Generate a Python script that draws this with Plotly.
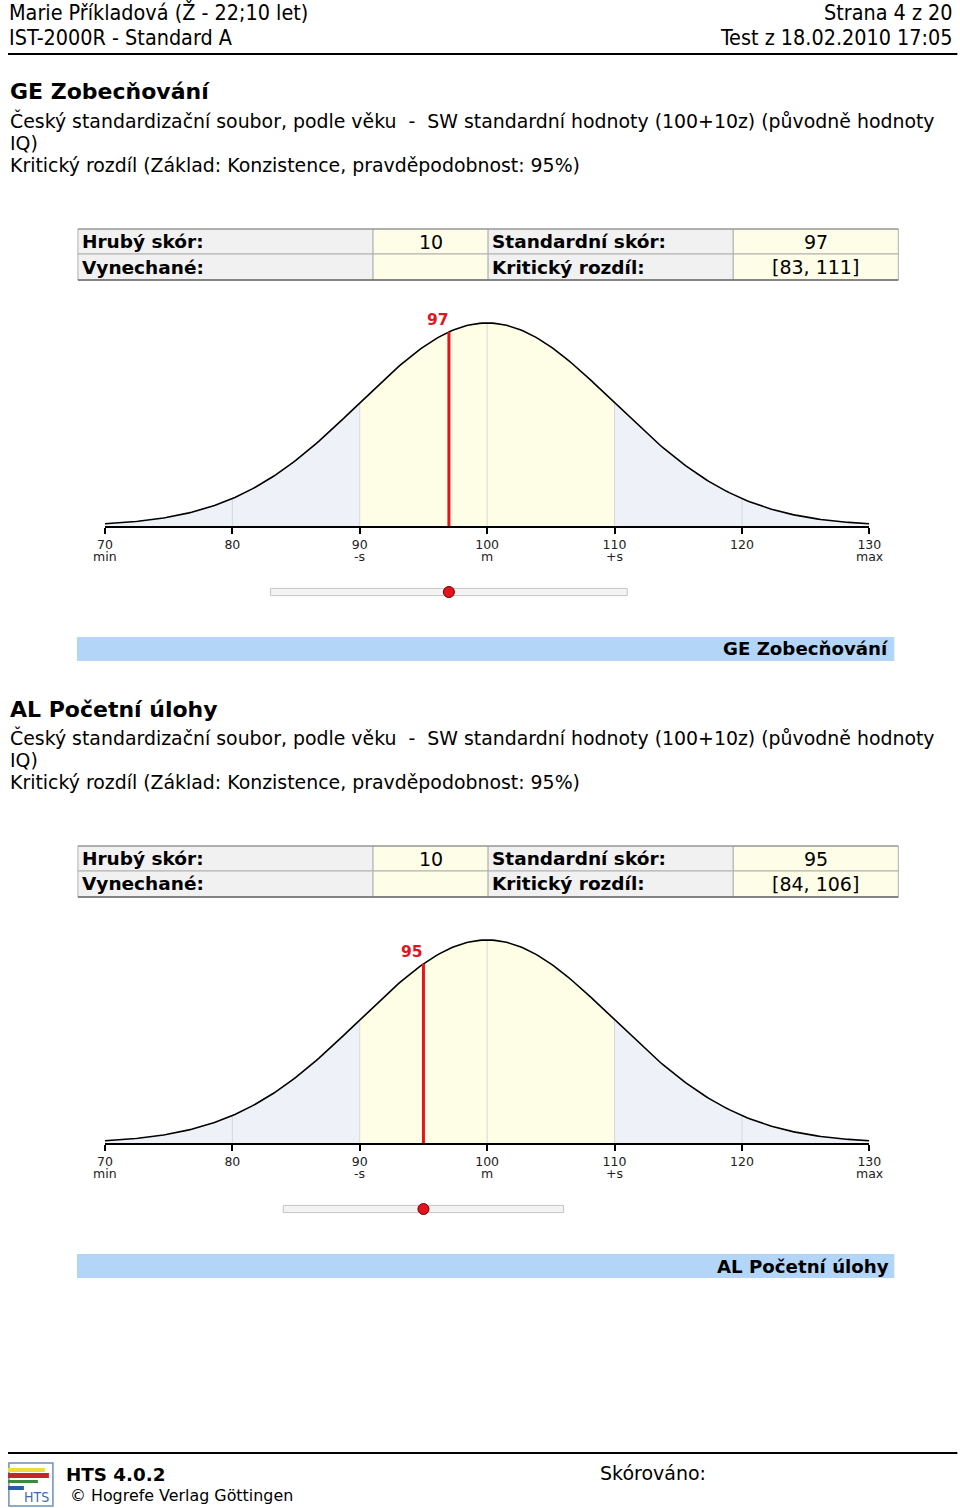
import numpy as np
import plotly.graph_objects as go

# ---------------- data ----------------
header_left = ["Marie Příkladová (Ž - 22;10 let)", "IST-2000R - Standard A"]
header_right = ["Strana 4 z 20", "Test z 18.02.2010 17:05"]
section_titles = ["GE Zobecňování", "AL Početní úlohy"]
norm_text = "Český standardizační soubor, podle věku \u00a0-\u00a0 SW standardní hodnoty (100+10z) (původně hodnoty"
norm_text2 = "IQ)"
crit_text = "Kritický rozdíl (Základ: Konzistence, pravděpodobnost: 95%)"
table_labels = [["Hrubý skór:", "Standardní skór:"], ["Vynechané:", "Kritický rozdíl:"]]
raw_scores = [10, 10]
omitted = ["", ""]
std_scores = [97, 95]
crit_low = [83, 84]
crit_high = [111, 106]
norm_mean = 100
norm_sd = 10
tick_vals = [70, 80, 90, 100, 110, 120, 130]
tick_nums = ["70", "80", "90", "100", "110", "120", "130"]
tick_sub = ["min", "", "-s", "m", "+s", "", "max"]
grid_vals = [80, 90, 100, 110, 120]
band_segments = [(70, 90), (90, 110), (110, 130)]
footer_version = "HTS 4.0.2"
footer_copy = "© Hogrefe Verlag Göttingen"
footer_scored = "Skórováno:"

# ---------------- styling ----------------
W, H = 975, 1508          # figure size in CSS px
OFF_X, K_X = 8.1, 0.979   # observed horizontal placement of the figure in the photographed page
FONT = "DejaVu Sans"
HFONT = "DejaVu Sans Condensed, Liberation Sans Narrow, DejaVu Sans"
TAIL = "#eef2f8"
CENTER = "#fefee6"
RED = "#e3141b"
LABEL_BG = "#f1f1f1"
VALUE_BG = "#fefde8"
BAND = "#b3d6f8"
SECTION_DY = 617
PEAK_PX = 203
COL_X = [78, 373, 488, 733, 898]
ROW_Y = [229, 254, 280]


def px(x):
    return ((x - OFF_X) / K_X) / W


def py(y):
    return 1 - y / H


def dens(x):
    return np.exp(-0.5 * ((np.asarray(x, dtype=float) - norm_mean) / norm_sd) ** 2)


fig = go.Figure()
annotations = []
shapes = []


def text(x, y, s, size, anchor="left", bold=False, color="black", family=FONT):
    annotations.append(dict(
        x=px(x), y=py(y), xref="paper", yref="paper", showarrow=False,
        text=f"<b>{s}</b>" if bold else s, xanchor=anchor, yanchor="middle",
        font=dict(size=size, color=color, family=family)))


def rect(x0, y0, x1, y1, fill=None, line_color=None, lw=1, layer="above"):
    shapes.append(dict(type="rect", xref="paper", yref="paper", x0=max(px(x0), 0), x1=px(x1),
                       y0=py(y1), y1=py(y0), fillcolor=fill or "rgba(0,0,0,0)",
                       line=dict(color=line_color or "rgba(0,0,0,0)", width=lw if line_color else 0),
                       layer=layer))


def hline(x0, x1, y, color="black", width=2):
    shapes.append(dict(type="line", xref="paper", yref="paper", x0=max(px(x0), 0), x1=px(x1),
                       y0=py(y), y1=py(y), line=dict(color=color, width=width)))


# header
text(7, 13, header_left[0], 21.4, family=HFONT)
text(7, 38, header_left[1], 21.4, family=HFONT)
text(955, 13, header_right[0], 21.4, anchor="right", family=HFONT)
text(955, 38, header_right[1], 21.4, anchor="right", family=HFONT)
hline(5, 957, 54)

layout_axes = {}
for i, title in enumerate(section_titles):
    dy = SECTION_DY * i
    n = i + 1
    xa = "x" if n == 1 else f"x{n}"
    ya = "y" if n == 1 else f"y{n}"
    ys_n = n + 2
    ys = f"y{ys_n}"
    base = 526 + dy
    top = 300 + dy
    s = std_scores[i]

    text(8, 92 + dy, title, 22, bold=True)
    text(8, 120 + dy, norm_text, 18.9)
    text(8, 143 + dy, norm_text2, 18.9)
    text(8, 165 + dy, crit_text, 18.9)

    values = [[str(raw_scores[i]), str(s)],
              [omitted[i], f"[{crit_low[i]}, {crit_high[i]}]"]]
    for r in range(2):
        y0, y1 = ROW_Y[r] + dy, ROW_Y[r + 1] + dy
        ym = (y0 + y1) / 2
        for c in range(2):
            lx0, lx1, vx1 = COL_X[2 * c], COL_X[2 * c + 1], COL_X[2 * c + 2]
            rect(lx0, y0, lx1, y1, fill=LABEL_BG, line_color="#b0b0b0", layer="below")
            rect(lx1, y0, vx1, y1, fill=VALUE_BG, line_color="#b0b0b0", layer="below")
            text(lx0 + 2, ym, table_labels[r][c], 18.5, bold=True)
            if values[r][c]:
                text((lx1 + vx1) / 2, ym, values[r][c], 19, anchor="center")
    hline(COL_X[0], COL_X[-1], ROW_Y[0] + dy, color="#8a8a8a", width=1.2)
    hline(COL_X[0], COL_X[-1], ROW_Y[-1] + dy, color="#6a6a6a", width=1.5)

    for (a, b) in band_segments:
        xs = np.linspace(a, b, 81)
        fig.add_trace(go.Scatter(x=xs, y=dens(xs), mode="lines", fill="tozeroy",
                                 fillcolor=CENTER if a == 90 else TAIL,
                                 line=dict(width=0, color="rgba(0,0,0,0)"),
                                 xaxis=xa, yaxis=ya, hoverinfo="skip"))
    gx, gy = [], []
    for g in grid_vals:
        gx += [g, g, None]
        gy += [0, float(dens(g)), None]
    fig.add_trace(go.Scatter(x=gx, y=gy, mode="lines", line=dict(color="#d8d8d8", width=1),
                             xaxis=xa, yaxis=ya, hoverinfo="skip"))
    xc = np.linspace(tick_vals[0], tick_vals[-1], 301)
    fig.add_trace(go.Scatter(x=xc, y=dens(xc), mode="lines", line=dict(color="black", width=1.6),
                             xaxis=xa, yaxis=ya, hoverinfo="skip"))
    fig.add_trace(go.Scatter(x=[s, s], y=[0, float(dens(s))], mode="lines",
                             line=dict(color=RED, width=3), xaxis=xa, yaxis=ya, hoverinfo="skip"))
    annotations.append(dict(x=s, y=float(dens(s)), xref=xa, yref=ya, showarrow=False,
                            text=f"<b>{s}</b>", xanchor="right", yanchor="bottom",
                            xshift=2, yshift=1, font=dict(size=15.5, color=RED, family=FONT)))
    for v, sub in zip(tick_vals, tick_sub):
        if sub:
            annotations.append(dict(x=v, y=py(base + 30), xref=xa, yref="paper", showarrow=False,
                                    text=sub, xanchor="center", yanchor="middle",
                                    font=dict(size=12.5, color="#222", family=FONT)))

    fig.add_trace(go.Bar(x=[crit_high[i] - crit_low[i]], base=[crit_low[i]], y=[0],
                         orientation="h", width=0.6,
                         marker=dict(color="#f3f3f3", line=dict(color="#c4c4c4", width=1)),
                         xaxis=xa, yaxis=ys, hoverinfo="skip"))
    fig.add_trace(go.Scatter(x=[s], y=[0], mode="markers",
                             marker=dict(size=11, color=RED, line=dict(color="#700000", width=1)),
                             xaxis=xa, yaxis=ys, hoverinfo="skip"))

    xname = "xaxis" if n == 1 else f"xaxis{n}"
    yname = "yaxis" if n == 1 else f"yaxis{n}"
    layout_axes[xname] = dict(domain=[px(105), px(869)], range=[70, 130], anchor=ya,
                              showline=True, linecolor="black", linewidth=1.5,
                              ticks="outside", ticklen=6, tickwidth=1.5, tickcolor="black",
                              tickvals=tick_vals, ticktext=tick_nums,
                              tickfont=dict(size=12.5, color="#222", family=FONT),
                              showgrid=False, zeroline=False, fixedrange=True)
    layout_axes[yname] = dict(domain=[py(base), py(top)], range=[0, (base - top) / PEAK_PX],
                              anchor=xa, visible=False, fixedrange=True)
    layout_axes[f"yaxis{ys_n}"] = dict(domain=[py(base + 78), py(base + 54)], range=[-1, 1],
                                       anchor=xa, visible=False, fixedrange=True)

    rect(77, 637 + dy, 894, 661 + dy, fill=BAND, layer="below")
    text(891, 649 + dy, title, 18.2, anchor="right", bold=True)

# footer
hline(5, 957, 1453)
rect(9, 1463, 53, 1506, line_color="#6f8fb8", lw=1.5)
for (x0, x1, y0, y1, c) in [(6, 45, 1468, 1472, "#f2dc3a"), (6, 49, 1473, 1478, "#cc2229"),
                            (6, 38, 1480, 1483, "#3a8a3a"), (6, 24, 1486, 1490, "#2a5ca8")]:
    rect(x0, y0, x1, y1, fill=c)
text(51, 1497, "HTS", 14, anchor="right", color="#3f6aa5", family=HFONT)
text(64, 1474, footer_version, 18.3, bold=True)
text(68, 1495, footer_copy, 15.9)
text(598, 1473, footer_scored, 19)

fig.update_layout(width=W, height=H, autosize=False, margin=dict(l=0, r=0, t=0, b=0, pad=0),
                  paper_bgcolor="white", plot_bgcolor="white", showlegend=False,
                  annotations=annotations, shapes=shapes, **layout_axes)

post = ("document.documentElement.style.margin='0';document.body.style.margin='0';"
        "document.body.style.padding='0';document.body.style.overflow='hidden';")
fig.write_html("out.html", config={"displayModeBar": False}, post_script=post)
